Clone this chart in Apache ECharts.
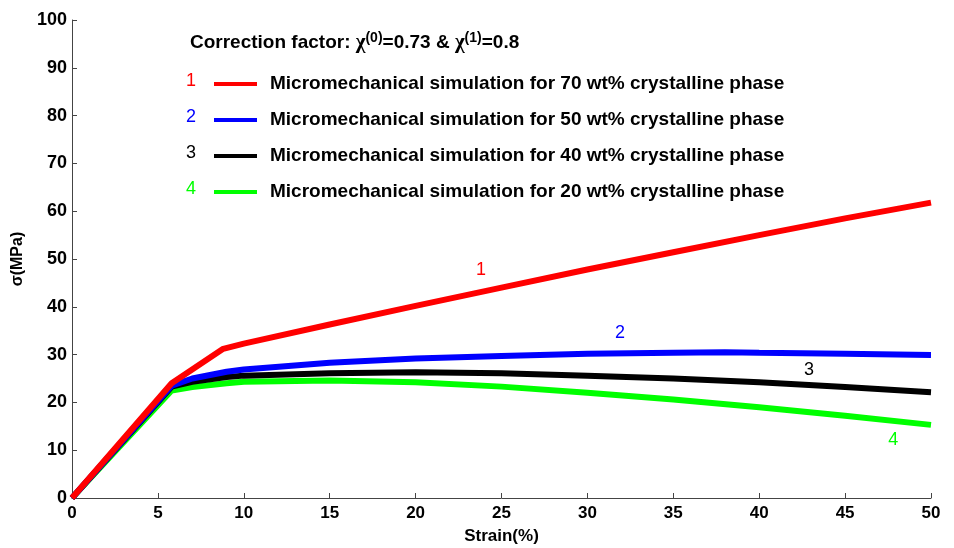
<!DOCTYPE html>
<html><head><meta charset="utf-8">
<script src="https://cdn.jsdelivr.net/npm/echarts@6/dist/echarts.min.js"></script>
<style>html,body{margin:0;padding:0;background:#fff}#c{width:954px;height:548px}</style>
</head><body><div id="c"></div>
<script>
const xTicks = [0,5,10,15,20,25,30,35,40,45,50];
const yTicks = [0,10,20,30,40,50,60,70,80,90,100];
const seriesNames = [
  'Micromechanical simulation for 70 wt% crystalline phase',
  'Micromechanical simulation for 50 wt% crystalline phase',
  'Micromechanical simulation for 40 wt% crystalline phase',
  'Micromechanical simulation for 20 wt% crystalline phase'
];
const seriesColors = ['#ff0000','#0000ff','#000000','#00ff00'];
const curveLabels = ['1','2','3','4'];
const strain70 = [0, 5.8, 8.8, 10, 15, 20, 25, 30, 35, 40, 45, 50];
const stress70 = [0, 24.0, 31.2, 32.3, 36.3, 40.2, 44.0, 47.8, 51.4, 55.0, 58.5, 61.8];
const strain50 = [0, 5.8, 7, 9, 10, 15, 20, 25, 30, 35, 38, 40, 45, 50];
const stress50 = [0, 23.5, 25.0, 26.4, 26.9, 28.3, 29.2, 29.7, 30.2, 30.4, 30.5, 30.4, 30.2, 29.9];
const strain40 = [0, 5.8, 7, 9, 10, 15, 20, 25, 30, 35, 40, 45, 50];
const stress40 = [0, 23.3, 24.3, 25.3, 25.6, 26.1, 26.3, 26.1, 25.6, 25.0, 24.2, 23.2, 22.1];
const strain20 = [0, 5.8, 7, 9, 10, 15, 20, 25, 30, 35, 40, 45, 50];
const stress20 = [0, 22.5, 23.2, 24.0, 24.3, 24.6, 24.2, 23.3, 22.0, 20.6, 19.0, 17.2, 15.3];
const curveLabelPos = [[23.8, 47.7], [31.9, 34.5], [42.9, 26.8], [47.8, 12.1]];
const correctionText = 'Correction factor: ';

const strains = [strain70, strain50, strain40, strain20];
const stresses = [stress70, stress50, stress40, stress20];

const chart = echarts.init(document.getElementById('c'), null, {renderer: 'canvas'});
const series = seriesNames.map((n, i) => ({
  name: n, type: 'line', symbol: 'none', smooth: false,
  lineStyle: {color: seriesColors[i], width: 6},
  itemStyle: {color: seriesColors[i]},
  z: 10 - i,
  data: strains[i].map((x, k) => [x, stresses[i][k]])
}));
series[0].z = 20;

const option = {
  animation: false,
  backgroundColor: '#fff',
  grid: {left: 72, right: 23, top: 20, bottom: 50, containLabel: false, outerBoundsMode: 'none'},
  xAxis: {
    type: 'value', min: 0, max: 50, interval: 5,
    name: 'Strain(%)', nameLocation: 'middle', nameGap: 30,
    nameTextStyle: {fontFamily: 'Liberation Sans, Arial, sans-serif', fontWeight: 'bold', fontSize: 17, color: '#000'},
    axisLine: {lineStyle: {color: '#444', width: 1}},
    axisTick: {inside: true, length: 5, lineStyle: {color: '#444'}},
    axisLabel: {fontFamily: 'Liberation Sans, Arial, sans-serif', fontWeight: 'bold', fontSize: 17, color: '#000', margin: 7},
    splitLine: {show: false}
  },
  yAxis: {
    type: 'value', min: 0, max: 100, interval: 10,
    name: 'σ(MPa)', nameLocation: 'middle', nameGap: 46, nameRotate: 90,
    nameTextStyle: {fontFamily: 'Liberation Sans, Arial, sans-serif', fontWeight: 'bold', fontSize: 16, color: '#000'},
    axisLine: {show: true, lineStyle: {color: '#444', width: 1}},
    axisTick: {show: true, inside: true, length: 5, lineStyle: {color: '#444'}},
    axisLabel: {fontFamily: 'Liberation Sans, Arial, sans-serif', fontWeight: 'bold', fontSize: 18, color: '#000', margin: 5},
    splitLine: {show: false}
  },
  legend: {
    orient: 'vertical', left: 209, top: 69,
    itemWidth: 43, itemHeight: 4, itemGap: 16,
    icon: 'rect',
    data: seriesNames,
    textStyle: {fontFamily: 'Liberation Sans, Arial, sans-serif', fontWeight: 'bold', fontSize: 19, color: '#000', lineHeight: 20, padding: [0,0,0,8]},
    selectedMode: false
  },
  series: series
};
chart.setOption(option);

const graphics = [];
graphics.push({
  type: 'text', left: 190, top: 31, z: 50,
  style: {
    text: correctionText + '{g|χ}{sup|(0)}=0.73 & {g|χ}{sup|(1)}=0.8',
    font: 'bold 19px "Liberation Sans", Arial, sans-serif', fill: '#000',
    rich: {
      g: {font: 'bold 21px "Liberation Serif", serif', fill: '#000'},
      sup: {font: 'bold 14px "Liberation Sans", Arial, sans-serif', fill: '#000', padding: [0,0,10,0]}
    }
  }
});
curveLabels.forEach((t, i) => {
  graphics.push({
    type: 'text', x: 191, y: 81 + 36 * i, z: 50,
    style: {text: t, font: '18px "Liberation Sans", Arial, sans-serif', fill: seriesColors[i], align: 'center', verticalAlign: 'middle'}
  });
  const p = chart.convertToPixel({gridIndex: 0}, curveLabelPos[i]);
  graphics.push({
    type: 'text', x: p[0], y: p[1], z: 50,
    style: {text: t, font: '18px "Liberation Sans", Arial, sans-serif', fill: seriesColors[i], align: 'center', verticalAlign: 'middle'}
  });
});
chart.setOption({graphic: graphics});
</script>
</body></html>
